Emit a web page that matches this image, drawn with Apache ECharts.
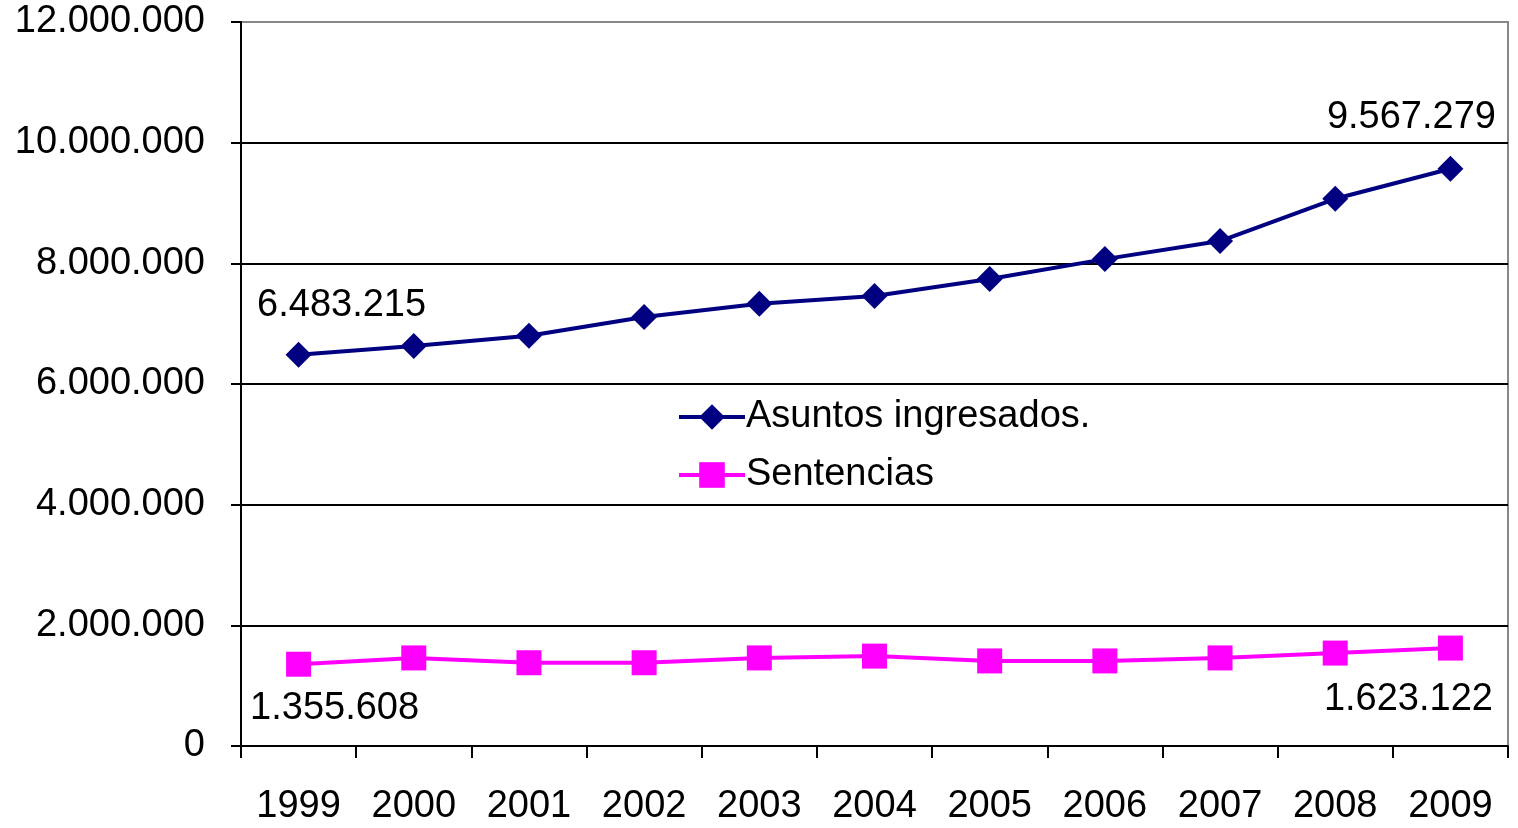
<!DOCTYPE html>
<html>
<head>
<meta charset="utf-8">
<script src="https://cdn.jsdelivr.net/npm/echarts@6/dist/echarts.min.js"></script>
<style>
  html, body { margin: 0; padding: 0; background: #fff; }
  #chart { width: 1518px; height: 828px; }
</style>
</head>
<body>
<div id="chart"></div>
<script>
// datos
var years = ['1999', '2000', '2001', '2002', '2003', '2004', '2005', '2006', '2007', '2008', '2009'];
var asuntos = [6483215, 6630000, 6800000, 7110000, 7330000, 7460000, 7740000, 8070000, 8370000, 9070000, 9567279];
var sentencias = [1355608, 1460000, 1380000, 1380000, 1460000, 1490000, 1410000, 1410000, 1460000, 1540000, 1623122];
var yTicks = [0, 2000000, 4000000, 6000000, 8000000, 10000000, 12000000];

function fmt(v) {
  return String(Math.round(v)).replace(/\B(?=(\d{3})+(?!\d))/g, '.');
}

var font = '"Liberation Sans", Arial, sans-serif';
var fs = 38;

// solo el primero y el último llevan etiqueta
function withLabels(arr, firstOff, lastOff) {
  return arr.map(function (v, i) {
    if (i === 0 || i === arr.length - 1) {
      return {
        value: v,
        label: {
          show: true,
          position: 'inside',
          offset: i === 0 ? firstOff : lastOff,
          formatter: function (p) { return fmt(p.value); },
          color: '#000',
          fontSize: fs,
          fontFamily: font
        }
      };
    }
    return v;
  });
}

var chart = echarts.init(document.getElementById('chart'), null, { renderer: 'canvas' });
chart.setOption({
  animation: false,
  backgroundColor: '#fff',
  grid: { left: 241, right: 10, top: 22, bottom: 82, show: true, borderColor: '#888', borderWidth: 2 },
  legend: {
    orient: 'vertical',
    left: 672,
    top: 393,
    itemWidth: 66,
    itemHeight: 32,
    itemGap: 20,
    textStyle: { color: '#000', fontSize: fs, fontFamily: font, padding: [0, 0, 0, -4] },
    data: [
      { name: 'Asuntos ingresados.', lineStyle: { width: 4 } },
      { name: 'Sentencias', lineStyle: { width: 4 } }
    ]
  },
  xAxis: {
    type: 'category',
    data: years,
    boundaryGap: true,
    axisLine: { lineStyle: { color: '#000', width: 2 } },
    axisTick: { show: true, length: 12, lineStyle: { color: '#000', width: 2 } },
    axisLabel: { color: '#000', fontSize: fs, fontFamily: font, margin: 42 },
    splitLine: { show: false }
  },
  yAxis: {
    type: 'value',
    min: yTicks[0],
    max: yTicks[yTicks.length - 1],
    interval: 2000000,
    axisLine: { show: true, lineStyle: { color: '#000', width: 2 } },
    axisTick: { show: true, length: 10, lineStyle: { color: '#000', width: 2 } },
    axisLabel: { color: '#000', fontSize: fs, fontFamily: font, margin: 36, formatter: fmt },
    splitLine: { show: true, lineStyle: { color: ['#000', '#000', '#000', '#000', '#000', '#000', '#888'], width: 2 } }
  },
  series: [
    {
      name: 'Asuntos ingresados.',
      type: 'line',
      data: withLabels(asuntos, [43, -49], [-39, -51]),
      symbol: 'diamond',
      symbolSize: 26,
      itemStyle: { color: '#000080' },
      lineStyle: { color: '#000080', width: 4 }
    },
    {
      name: 'Sentencias',
      type: 'line',
      data: withLabels(sentencias, [36, 44], [-42, 51]),
      symbol: 'rect',
      symbolSize: 25,
      itemStyle: { color: '#ff00ff' },
      lineStyle: { color: '#ff00ff', width: 4 }
    }
  ]
});
</script>
</body>
</html>
